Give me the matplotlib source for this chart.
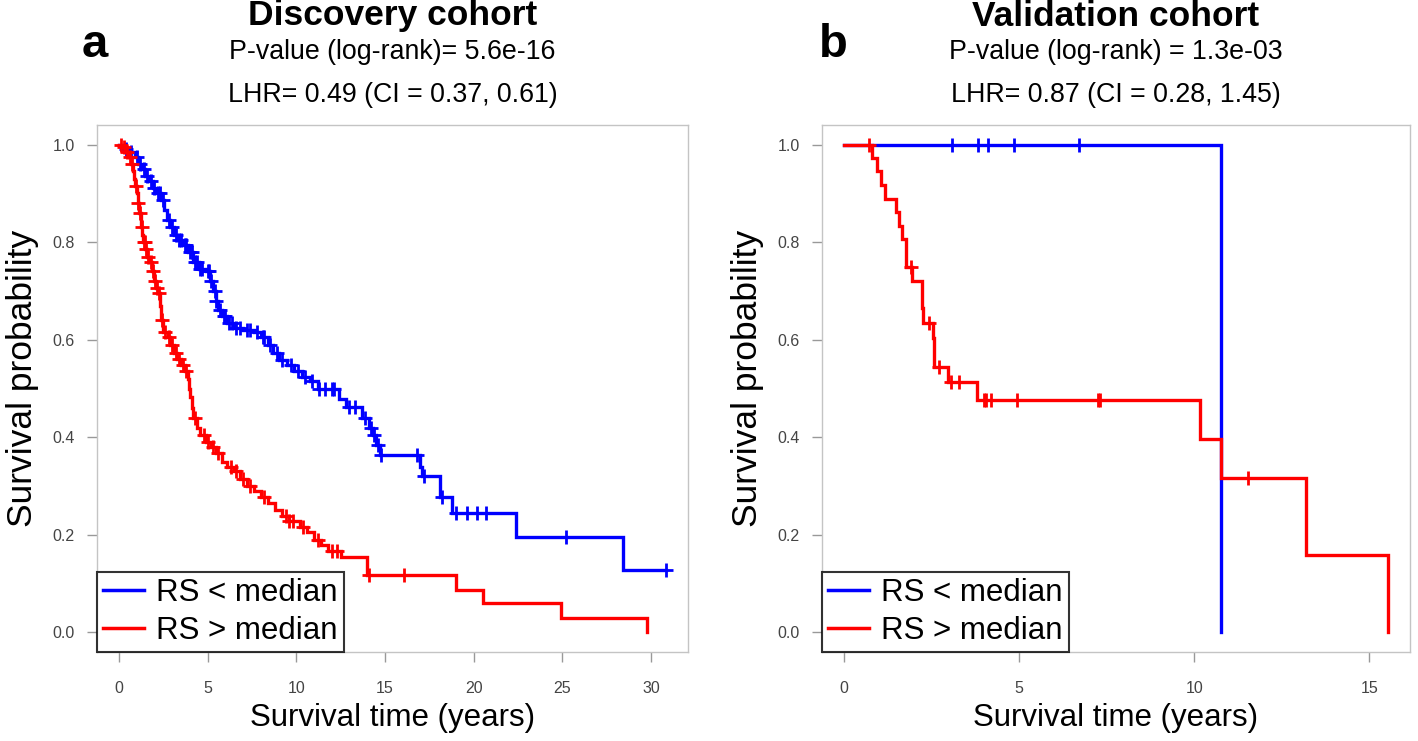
import numpy as np
import matplotlib
matplotlib.use("Agg")
import matplotlib.pyplot as plt
from matplotlib.lines import Line2D

plt.rcParams['font.family'] = ['Liberation Sans', 'DejaVu Sans']

# ---- panel a : discovery cohort (Kaplan-Meier steps) ----
a_low_t = [0, 0.3, 0.6, 0.9, 1.1, 1.3, 1.5, 1.7, 1.9, 2.1, 2.4, 2.55, 2.7, 2.9,
           3.1, 3.3, 3.6, 3.9, 4.2, 4.5, 4.9, 5.15, 5.3, 5.45, 5.6, 5.8, 6.1,
           6.5, 7.0, 7.6, 8.0, 8.4, 8.7, 9.0, 9.5, 9.9, 10.3, 10.8, 11.2, 12.4,
           12.8, 13.7, 14.1, 14.3, 14.5, 14.7, 17.0, 17.1, 18.1, 18.8, 22.4,
           28.4, 30.85]
a_low_s = [1.0, 0.99, 0.985, 0.975, 0.96, 0.95, 0.935, 0.925, 0.91, 0.90,
           0.887, 0.865, 0.845, 0.83, 0.815, 0.805, 0.795, 0.78, 0.76, 0.745,
           0.74, 0.72, 0.70, 0.68, 0.66, 0.648, 0.635, 0.625, 0.62, 0.615,
           0.605, 0.59, 0.573, 0.558, 0.548, 0.535, 0.524, 0.515, 0.50, 0.478,
           0.462, 0.44, 0.42, 0.405, 0.385, 0.363, 0.34, 0.32, 0.277, 0.244,
           0.195, 0.129, 0.129]
a_low_cens = [0.4, 0.7, 1.0, 1.2, 1.4, 1.6, 1.8, 2.0, 2.2, 2.3, 2.5, 2.8, 3.0,
              3.2, 3.4, 3.5, 3.7, 3.8, 4.0, 4.1, 4.3, 4.4, 4.6, 4.7, 5.0, 5.1,
              5.2, 5.4, 5.5, 5.7, 5.9, 6.0, 6.2, 6.4, 6.6, 6.8, 7.2, 7.4, 7.8,
              8.1, 8.2, 8.5, 8.9, 9.2, 9.7, 10.1, 10.5, 10.9, 11.3, 11.6, 12.0,
              12.1, 13.0, 13.3, 13.9, 14.2, 14.4, 14.6, 14.8, 16.8, 17.2, 18.2,
              19.0, 19.6, 20.2, 20.7, 25.2, 30.85]

a_high_t = [0, 0.2, 0.4, 0.55, 0.7, 0.8, 0.85, 0.9, 1.0, 1.07, 1.15, 1.24, 1.3,
            1.35, 1.5, 1.6, 1.7, 1.85, 2.0, 2.1, 2.2, 2.3, 2.36, 2.5, 2.75, 2.9,
            3.1, 3.3, 3.5, 3.7, 3.9, 3.95, 4.0, 4.1, 4.2, 4.4, 4.6, 4.9, 5.2,
            5.5, 5.8, 6.1, 6.5, 6.8, 7.2, 7.6, 8.0, 8.4, 8.8, 9.2, 9.6, 10.2,
            10.6, 11.0, 11.4, 11.8, 12.5, 14.0, 19.0, 20.5, 24.9, 29.8]
a_high_s = [1.0, 0.995, 0.985, 0.975, 0.96, 0.945, 0.93, 0.915, 0.9, 0.88,
            0.86, 0.83, 0.815, 0.80, 0.785, 0.77, 0.76, 0.74, 0.72, 0.705,
            0.695, 0.67, 0.64, 0.615, 0.605, 0.59, 0.573, 0.56, 0.548, 0.535,
            0.52, 0.50, 0.483, 0.46, 0.44, 0.42, 0.405, 0.39, 0.38, 0.367,
            0.35, 0.34, 0.33, 0.315, 0.30, 0.29, 0.278, 0.265, 0.25, 0.238,
            0.228, 0.216, 0.205, 0.19, 0.18, 0.168, 0.154, 0.117, 0.088, 0.06,
            0.029, 0.0]
a_high_cens = [0.1, 0.3, 0.45, 0.6, 0.75, 0.95, 1.1, 1.2, 1.28, 1.4, 1.45,
               1.55, 1.65, 1.8, 1.9, 2.05, 2.15, 2.25, 2.45, 2.6, 2.8, 3.0,
               3.2, 3.4, 3.6, 3.8, 4.3, 4.8, 5.0, 5.3, 5.6, 6.3, 6.6, 7.0, 7.4,
               8.2, 9.4, 9.6, 9.8, 10.4, 11.2, 12.0, 12.3, 14.1, 16.1]

# ---- panel b : validation cohort ----
b_low_t = [0, 10.76]
b_low_s = [1.0, 0.0]
b_low_cens = [3.09, 3.84, 4.12, 4.86, 6.71]

b_high_t = [0, 0.80, 0.96, 1.07, 1.165, 1.48, 1.57, 1.65, 1.78, 1.95, 2.22,
            2.25, 2.54, 2.57, 2.97, 3.80, 10.16, 10.76, 13.19, 15.54]
b_high_s = [1.0, 0.973, 0.945, 0.918, 0.889, 0.861, 0.834, 0.806, 0.75, 0.721,
            0.665, 0.635, 0.603, 0.5435, 0.514, 0.476, 0.396, 0.317, 0.1585,
            0.0]
b_high_cens = [0.72, 1.93, 2.42, 2.71, 3.07, 3.28, 4.01, 4.05, 4.2, 4.93,
               7.25, 7.31, 11.54]

labels = ["RS < median", "RS > median"]
titles = ["Discovery cohort", "Validation cohort"]
pvals = ["P-value (log-rank)= 5.6e-16", "P-value (log-rank) = 1.3e-03"]
lhrs = ["LHR= 0.49 (CI = 0.37, 0.61)", "LHR= 0.87 (CI = 0.28, 1.45)"]
letters = ["a", "b"]
xticks = [[0, 5, 10, 15, 20, 25, 30], [0, 5, 10, 15]]
xmax = [30.85, 15.54]

BLUE = "#0000ff"
RED = "#ff0000"
FRAME = "#c4c4c4"


def surv_at(t, s, x):
    # value of the step function just after time x
    idx = np.searchsorted(t, x, side="right") - 1
    return np.array(s)[idx]


def km(ax, t, s, cens, color):
    ax.step(t, s, where="post", color=color, lw=2.4, solid_joinstyle="miter")
    c = np.array(cens)
    ax.plot(c, surv_at(t, s, c), ls="none", marker="+", ms=10, mew=2,
            color=color)


fig = plt.figure(figsize=(14.18, 7.41), dpi=100)
ax_a = fig.add_axes([97 / 1418, 1 - 652 / 741, 591 / 1418, 527 / 741])
ax_b = fig.add_axes([822 / 1418, 1 - 652 / 741, 588 / 1418, 527 / 741])

data = [((a_low_t, a_low_s, a_low_cens), (a_high_t, a_high_s, a_high_cens)),
        ((b_low_t, b_low_s, b_low_cens), (b_high_t, b_high_s, b_high_cens))]

for i, ax in enumerate([ax_a, ax_b]):
    low, high = data[i]
    km(ax, *low, BLUE)
    km(ax, *high, RED)

    pad = 0.04 * xmax[i]
    ax.set_xlim(-pad, xmax[i] + pad)
    ax.set_ylim(-0.04, 1.04)
    ax.set_xticks(xticks[i])
    ax.set_yticks([0, 0.2, 0.4, 0.6, 0.8, 1.0])
    ax.set_yticklabels(["0.0", "0.2", "0.4", "0.6", "0.8", "1.0"])
    for sp in ax.spines.values():
        sp.set_color(FRAME)
        sp.set_linewidth(1.0)
    ax.tick_params(length=7, width=1, color="#999999", labelcolor="#444444",
                   labelsize=11.5)
    ax.tick_params(axis="x", pad=14)
    ax.tick_params(axis="y", pad=9)

    ax.set_xlabel("Survival time (years)", fontsize=22.5, labelpad=5)
    ax.set_ylabel("Survival probability", fontsize=25.5)
    ax.yaxis.set_label_coords(-58 / 591, 0.5 + 10 / 527)

    ax.text(0.5, 1.0 + 109 / 527, titles[i], transform=ax.transAxes,
            ha="center", va="center", fontsize=25.5, fontweight="bold")
    ax.text(0.5, 1.0 + 73 / 527, pvals[i], transform=ax.transAxes,
            ha="center", va="center", fontsize=19.3)
    ax.text(0.5, 1.0 + 30 / 527, lhrs[i], transform=ax.transAxes,
            ha="center", va="center", fontsize=19.3)

    handles = [Line2D([], [], color=BLUE, lw=2.5),
               Line2D([], [], color=RED, lw=2.5)]
    leg = ax.legend(handles, labels, loc="lower left", bbox_to_anchor=(0, 0),
                    borderaxespad=0, fontsize=22.5, frameon=True,
                    fancybox=False, handlelength=1.3, handletextpad=0.4,
                    borderpad=0.2, labelspacing=0.25, edgecolor="black")
    leg.get_frame().set_linewidth(1.5)

fig.text(95 / 1418, 1 - 45 / 741, letters[0], fontsize=34, fontweight="bold",
         ha="center", va="center")
fig.text(833 / 1418, 1 - 45 / 741, letters[1], fontsize=34, fontweight="bold",
         ha="center", va="center")

fig.savefig("out.png", dpi=100)
